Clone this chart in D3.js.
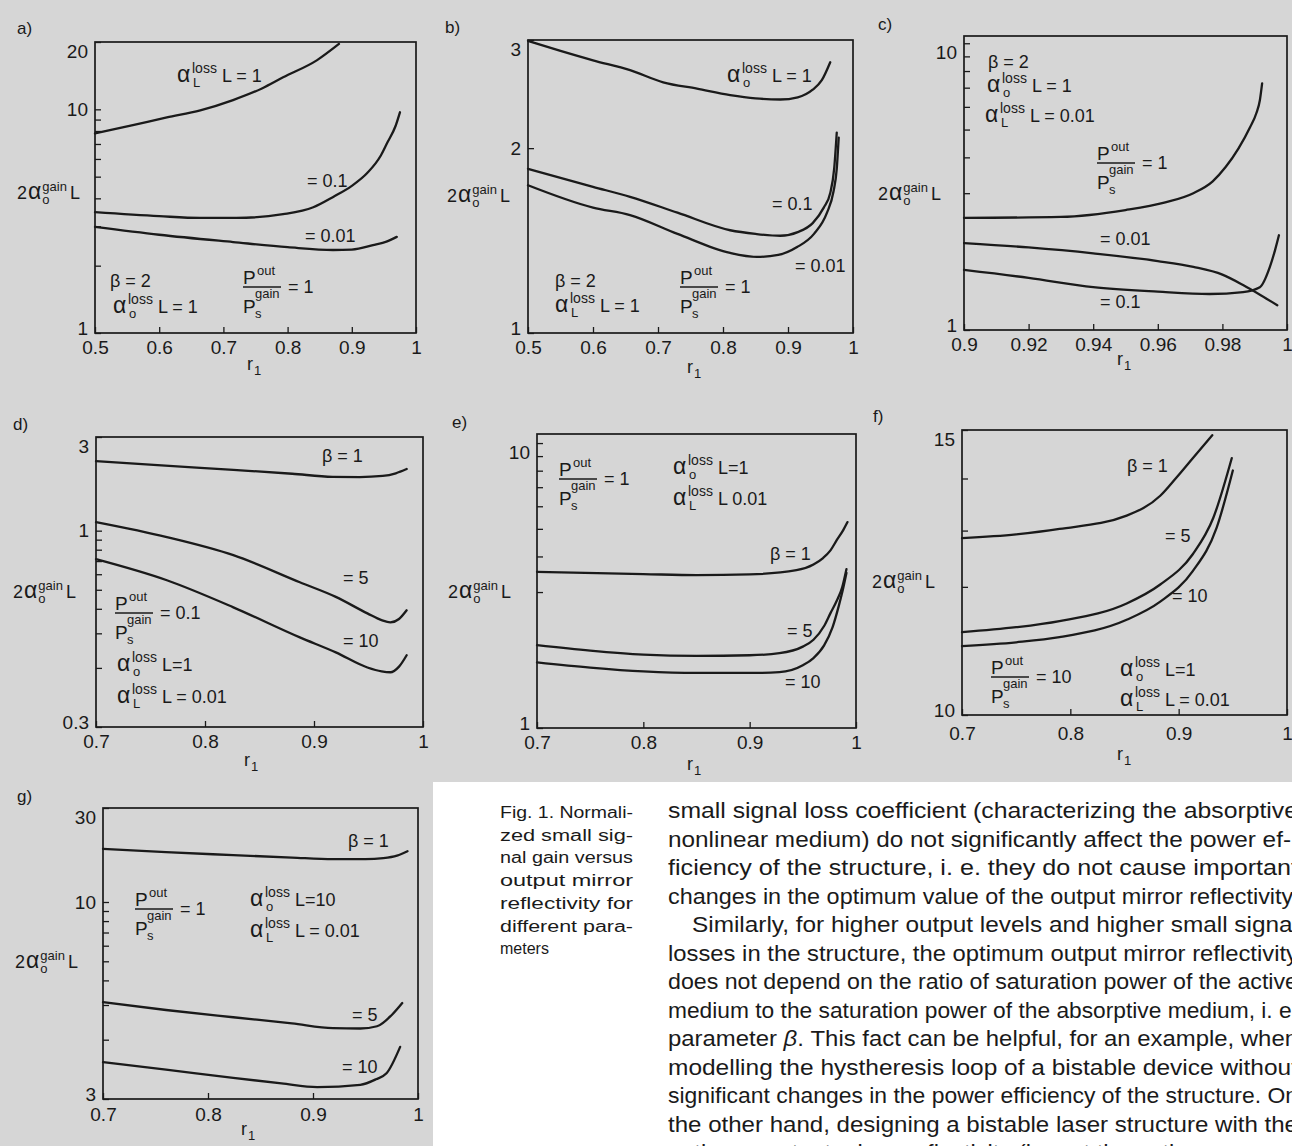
<!DOCTYPE html>
<html>
<head>
<meta charset="utf-8">
<script src="https://cdn.jsdelivr.net/npm/d3@7"></script>
<style>
  body { margin: 0; background: #fff; }
  svg text { font-family: "Liberation Sans", Arial, sans-serif; fill: #1a1a1a; }
</style>
</head>
<body>
<svg id="page"></svg>
<script>
// ---- data ----
// a) beta = 2, alpha_o L = 1, Pout/Ps = 1
const aR1 = [0.5, 0.559, 0.612, 0.664, 0.715, 0.76, 0.793, 0.846, 0.88];
const aV1 = [7.8, 8.5, 9.2, 9.9, 11.0, 12.4, 13.9, 16.6, 19.6];
const aR2 = [0.5, 0.6, 0.664, 0.72, 0.793, 0.84, 0.871, 0.9, 0.924, 0.945, 0.955, 0.968, 0.975];
const aV2 = [3.47, 3.33, 3.27, 3.27, 3.4, 3.65, 4.06, 4.55, 5.19, 6.2, 7.07, 8.4, 9.7];
const aR3 = [0.5, 0.6, 0.715, 0.8, 0.871, 0.9, 0.933, 0.955, 0.97];
const aV3 = [2.98, 2.75, 2.55, 2.42, 2.35, 2.36, 2.47, 2.57, 2.69];

// b)
const bR1 = [0.5, 0.55, 0.6, 0.657, 0.708, 0.76, 0.811, 0.85, 0.888, 0.915, 0.938, 0.952, 0.965];
const bV1 = [2.99, 2.88, 2.78, 2.68, 2.56, 2.5, 2.44, 2.41, 2.4, 2.42, 2.49, 2.58, 2.76];
const bR2 = [0.5, 0.6, 0.657, 0.73, 0.811, 0.85, 0.888, 0.915, 0.938, 0.955, 0.965, 0.971, 0.975];
const bV2 = [1.85, 1.73, 1.666, 1.57, 1.47, 1.45, 1.44, 1.46, 1.51, 1.6, 1.69, 1.85, 2.12];
const bR3 = [0.5, 0.6, 0.657, 0.73, 0.811, 0.852, 0.885, 0.914, 0.94, 0.96, 0.97, 0.975, 0.978];
const bV3 = [1.74, 1.6, 1.556, 1.45, 1.35, 1.33, 1.34, 1.38, 1.45, 1.57, 1.7, 1.85, 2.08];

// c)
const cR1 = [0.9, 0.93, 0.95, 0.962, 0.971, 0.977, 0.981, 0.985, 0.9886, 0.9905, 0.9916, 0.9923];
const cV1 = [2.46, 2.48, 2.62, 2.78, 3.0, 3.3, 3.7, 4.3, 5.1, 5.7, 6.33, 7.25];
const cR2 = [0.9, 0.92, 0.94, 0.96, 0.971, 0.98, 0.9864, 0.992, 0.997];
const cV2 = [2.01, 1.94, 1.85, 1.74, 1.66, 1.56, 1.435, 1.32, 1.22];
const cR3 = [0.9, 0.92, 0.94, 0.96, 0.976, 0.9864, 0.9916, 0.9947, 0.9963, 0.9975];
const cV3 = [1.62, 1.52, 1.41, 1.36, 1.335, 1.356, 1.41, 1.66, 1.9, 2.14];

// d)
const dR1 = [0.7, 0.76, 0.826, 0.88, 0.917, 0.942, 0.963, 0.975, 0.985];
const dV1 = [2.26, 2.15, 2.04, 1.95, 1.88, 1.875, 1.9, 1.96, 2.06];
const dR2 = [0.7, 0.765, 0.826, 0.887, 0.92, 0.949, 0.962, 0.97, 0.978, 0.985];
const dV2 = [1.105, 0.927, 0.75, 0.546, 0.46, 0.379, 0.35, 0.341, 0.355, 0.393];
const dR3 = [0.7, 0.765, 0.826, 0.887, 0.92, 0.949, 0.962, 0.97, 0.978, 0.985];
const dV3 = [0.716, 0.559, 0.407, 0.286, 0.24, 0.201, 0.192, 0.19, 0.203, 0.232];

// e)
const eR1 = [0.7, 0.8, 0.85, 0.9, 0.944, 0.96, 0.969, 0.976, 0.982, 0.988, 0.992];
const eV1 = [3.53, 3.47, 3.44, 3.46, 3.58, 3.75, 3.95, 4.2, 4.57, 4.95, 5.28];
const eR2 = [0.7, 0.75, 0.8, 0.85, 0.9, 0.928, 0.95, 0.96, 0.97, 0.976, 0.982, 0.987, 0.991];
const eV2 = [1.955, 1.87, 1.81, 1.79, 1.8, 1.83, 1.93, 2.04, 2.28, 2.53, 2.8, 3.12, 3.61];
const eR3 = [0.7, 0.75, 0.8, 0.85, 0.9, 0.928, 0.95, 0.96, 0.97, 0.978, 0.984, 0.988, 0.991];
const eV3 = [1.7, 1.63, 1.58, 1.56, 1.56, 1.57, 1.66, 1.76, 1.95, 2.26, 2.7, 3.1, 3.5];

// f)
const fR1 = [0.7, 0.75, 0.79, 0.852, 0.883, 0.898, 0.913, 0.931];
const fV1 = [12.86, 12.93, 13.03, 13.28, 13.66, 14.02, 14.41, 14.89];
const fR2 = [0.7, 0.75, 0.79, 0.852, 0.883, 0.913, 0.932, 0.949];
const fV2 = [11.25, 11.33, 11.43, 11.72, 12.04, 12.57, 13.24, 14.41];
const fR3 = [0.7, 0.75, 0.79, 0.852, 0.883, 0.913, 0.935, 0.95];
const fV3 = [11.03, 11.09, 11.17, 11.45, 11.75, 12.27, 13.05, 14.16];

// g)
const gR1 = [0.7, 0.76, 0.824, 0.88, 0.919, 0.95, 0.967, 0.98, 0.99];
const gV1 = [18.6, 17.9, 17.3, 16.8, 16.5, 16.5, 16.7, 17.2, 18.1];
const gR2 = [0.7, 0.76, 0.824, 0.88, 0.919, 0.945, 0.961, 0.975, 0.985];
const gV2 = [3.1, 2.83, 2.6, 2.42, 2.29, 2.28, 2.34, 2.67, 3.07];
const gR3 = [0.7, 0.76, 0.824, 0.87, 0.904, 0.945, 0.96, 0.97, 0.983];
const gV3 = [1.54, 1.41, 1.28, 1.2, 1.15, 1.18, 1.26, 1.35, 1.84];

// axis ticks
const xTicksAB = [0.5, 0.6, 0.7, 0.8, 0.9, 1];
const xTicksC = [0.9, 0.92, 0.94, 0.96, 0.98, 1];
const xTicksDG = [0.7, 0.8, 0.9, 1];
const yMinorDecade = [2, 3, 4, 5, 6, 7, 8, 9];

const captionLines = ["Fig. 1. Normali-", "zed small sig-", "nal gain versus", "output mirror",
  "reflectivity for", "different para-", "meters"];
const bodyLines = [
  "small signal loss coefficient (characterizing the absorptive",
  "nonlinear medium) do not significantly affect the power ef-",
  "ficiency of the structure, i. e. they do not cause important",
  "changes in the optimum value of the output mirror reflectivity.",
  "Similarly, for higher output levels and higher small signal",
  "losses in the structure, the optimum output mirror reflectivity",
  "does not depend on the ratio of saturation power of the active",
  "medium to the saturation power of the absorptive medium, i. e.",
  "parameter β. This fact can be helpful, for an example, when",
  "modelling the hystheresis loop of a bistable device without",
  "significant changes in the power efficiency of the structure. On",
  "the other hand, designing a bistable laser structure with the",
  "optimum output mirror reflectivity (i. e. at the optimum power"
];

// ---- drawing ----
const W = 1292, H = 1146;
const ink = "#1a1a1a";
const svg = d3.select("#page").attr("width", W).attr("height", H);

svg.append("rect").attr("width", W).attr("height", H).attr("fill", "#fff");
svg.append("path").attr("d", "M0,0H1292V782H433V1146H0Z").attr("fill", "#d6d6d6");

function txt(g, x, y, s, size, anchor) {
  return g.append("text").attr("x", x).attr("y", y)
    .attr("font-size", size).attr("text-anchor", anchor || "start").text(s);
}

function alphaLabel(g, x, y, sub, rest) {
  txt(g, x, y, "α", 23);
  const sup = txt(g, x + 15, y - 9, "loss", 14);
  txt(g, x + 16, y + 5, sub, 13);
  const w = sup.node().getComputedTextLength();
  txt(g, x + 15 + w + 5, y, rest, 18);
}

function fracLabel(g, x, y, rest) {
  txt(g, x, y - 3, "P", 19);
  txt(g, x + 14, y - 12, "out", 13);
  g.append("line").attr("x1", x).attr("x2", x + 38).attr("y1", y).attr("y2", y)
    .attr("stroke", ink).attr("stroke-width", 1.4);
  txt(g, x, y + 26, "P", 19);
  txt(g, x + 12, y + 31, "s", 13);
  txt(g, x + 12, y + 11, "gain", 13);
  txt(g, x + 45, y + 6, rest, 18);
}

function yTitle(g, x, y) {
  const two = txt(g, x, y, "2", 18);
  const w2 = two.node().getComputedTextLength();
  const al = txt(g, x + w2 + 1, y, "α", 23);
  const w = w2 + 1 + al.node().getComputedTextLength();
  const s = txt(g, x + w + 1, y - 8, "gain", 13);
  txt(g, x + w + 1, y + 5, "o", 13);
  txt(g, x + w + 2 + s.node().getComputedTextLength() + 2, y, "L", 18);
}

function rLabel(g, cx, cy) {
  txt(g, cx - 6, cy + 3, "r", 18);
  txt(g, cx + 1, cy + 8, "1", 13);
}

const panels = [
  { id: "a)", lab: [17, 34], l: 95, t: 42, r: 416, b: 333, xd: [0.5, 1], yd: [1, 20],
    xTicks: xTicksAB, yTicks: [20, 10, 1], yText: ["20", "10", "1"], yMinor: yMinorDecade, xPad: 8,
    curves: [[aR1, aV1], [aR2, aV2], [aR3, aV3]], title: [17, 199], rl: [253, 367],
    notes: [
      ["alpha", 177, 82, "L", "L = 1"], ["text", 307, 187, "= 0.1"], ["text", 305, 242, "= 0.01"],
      ["text", 110, 287, "β = 2"], ["alpha", 113, 313, "o", "L = 1"], ["frac", 243, 287, "= 1"]] },
  { id: "b)", lab: [445, 33], l: 528, t: 40, r: 853, b: 333, xd: [0.5, 1], yd: [1, 3],
    xTicks: xTicksAB, yTicks: [3, 2, 1], yText: ["3", "2", "1"], yMinor: [], xPad: 8,
    curves: [[bR1, bV1], [bR2, bV2], [bR3, bV3]], title: [447, 202], rl: [693, 370],
    notes: [
      ["alpha", 727, 82, "o", "L = 1"], ["text", 772, 210, "= 0.1"], ["text", 795, 272, "= 0.01"],
      ["text", 555, 287, "β = 2"], ["alpha", 555, 312, "L", "L = 1"], ["frac", 680, 287, "= 1"]] },
  { id: "c)", lab: [878, 30], l: 964, t: 36, r: 1287, b: 330, xd: [0.9, 1], yd: [1, 10.6],
    xTicks: xTicksC, yTicks: [10, 1], yText: ["10", "1"], yMinor: [3, 4, 5, 6, 7, 8, 9], xPad: 8,
    curves: [[cR1, cV1], [cR2, cV2], [cR3, cV3]], title: [878, 200], rl: [1123, 362],
    notes: [
      ["text", 988, 68, "β = 2"], ["alpha", 987, 92, "o", "L = 1"], ["alpha", 985, 122, "L", "L = 0.01"],
      ["frac", 1097, 163, "= 1"], ["text", 1100, 245, "= 0.01"], ["text", 1100, 308, "= 0.1"]] },
  { id: "d)", lab: [13, 430], l: 96, t: 437, r: 423, b: 727, xd: [0.7, 1], yd: [0.1, 3],
    xTicks: xTicksDG, yTicks: [3, 1, 0.1], yText: ["3", "1", "0.3"],
    yMinor: [0.2, 0.3, 0.4, 0.5, 0.6, 0.7, 0.8, 0.9], xPad: 8,
    curves: [[dR1, dV1], [dR2, dV2], [dR3, dV3]], title: [13, 598], rl: [250, 763],
    notes: [
      ["text", 322, 462, "β = 1"], ["text", 343, 584, "= 5"], ["text", 343, 647, "= 10"],
      ["frac", 115, 613, "= 0.1"], ["alpha", 117, 671, "o", "L=1"], ["alpha", 117, 703, "L", "L = 0.01"]] },
  { id: "e)", lab: [452, 428], l: 537, t: 434, r: 856, b: 728, xd: [0.7, 1], yd: [1, 10.76],
    xTicks: xTicksDG, yTicks: [10, 1], yText: ["10", "1"], yMinor: [3, 4, 5, 6, 7, 8, 9], xPad: 8,
    curves: [[eR1, eV1], [eR2, eV2], [eR3, eV3]], title: [448, 598], rl: [693, 767],
    notes: [
      ["frac", 559, 479, "= 1"], ["alpha", 673, 474, "o", "L=1"], ["alpha", 673, 505, "L", "L  0.01"],
      ["text", 770, 560, "β = 1"], ["text", 787, 637, "= 5"], ["text", 785, 688, "= 10"]] },
  { id: "f)", lab: [873, 422], l: 962, t: 430, r: 1287, b: 715, xd: [0.7, 1], yd: [10, 15],
    xTicks: xTicksDG, yTicks: [15, 10], yText: ["15", "10"], yMinor: [12, 13, 14], xPad: 12,
    curves: [[fR1, fV1], [fR2, fV2], [fR3, fV3]], title: [872, 588], rl: [1123, 757],
    notes: [
      ["text", 1127, 472, "β = 1"], ["text", 1165, 542, "= 5"], ["text", 1172, 602, "= 10"],
      ["frac", 991, 677, "= 10"], ["alpha", 1120, 676, "o", "L=1"], ["alpha", 1120, 706, "L", "L = 0.01"]] },
  { id: "g)", lab: [17, 802], l: 103, t: 808, r: 418, b: 1099, xd: [0.7, 1], yd: [1, 30],
    xTicks: xTicksDG, yTicks: [30, 10, 1], yText: ["30", "10", "3"], yMinor: yMinorDecade, xPad: 9,
    curves: [[gR1, gV1], [gR2, gV2], [gR3, gV3]], title: [15, 968], rl: [247, 1132],
    notes: [
      ["text", 348, 847, "β = 1"], ["text", 352, 1021, "= 5"], ["text", 342, 1073, "= 10"],
      ["frac", 135, 909, "= 1"], ["alpha", 250, 906, "o", "L=10"], ["alpha", 250, 937, "L", "L = 0.01"]] }
];

function drawPanel(p) {
  const x = d3.scaleLinear().domain(p.xd).range([p.l, p.r]);
  const y = d3.scaleLog().domain(p.yd).range([p.b, p.t]);
  const g = svg.append("g");
  const yTop = p.yTicks[0], yBot = p.yTicks[p.yTicks.length - 1];

  // minor y ticks (inward)
  if (p.yMinor.length) {
    g.append("g").attr("transform", `translate(${p.l},0)`)
      .call(d3.axisLeft(y).tickValues(p.yMinor).tickSizeInner(-6).tickSizeOuter(0).tickFormat(""))
      .call(a => a.select(".domain").remove());
  }
  // labelled y ticks
  const ya = g.append("g").attr("transform", `translate(${p.l},0)`)
    .call(d3.axisLeft(y).tickValues(p.yTicks).tickSizeInner(-6).tickSizeOuter(0).tickPadding(7)
      .tickFormat((d, i) => p.yText[i]))
    .call(a => a.select(".domain").remove());
  ya.attr("font-family", null).attr("font-size", null);
  ya.selectAll("text").attr("font-size", 19).attr("fill", ink)
    .attr("dy", d => d === yTop ? "0.8em" : d === yBot ? "0.1em" : "0.32em");

  // x axis
  const xa = g.append("g").attr("transform", `translate(0,${p.b})`)
    .call(d3.axisBottom(x).tickValues(p.xTicks).tickSizeInner(-6).tickSizeOuter(0).tickPadding(p.xPad)
      .tickFormat(d => String(d)))
    .call(a => a.select(".domain").remove());
  xa.attr("font-family", null).attr("font-size", null);
  xa.selectAll("text").attr("font-size", 19).attr("fill", ink);
  g.selectAll(".tick line").attr("stroke", ink).attr("stroke-width", 1.3);

  // frame
  g.append("rect").attr("x", p.l).attr("y", p.t).attr("width", p.r - p.l).attr("height", p.b - p.t)
    .attr("fill", "none").attr("stroke", ink).attr("stroke-width", 1.7);

  // curves
  const line = d3.line().x(d => x(d[0])).y(d => y(d[1])).curve(d3.curveMonotoneX);
  p.curves.forEach(c => {
    g.append("path").attr("d", line(d3.zip(c[0], c[1])))
      .attr("fill", "none").attr("stroke", ink).attr("stroke-width", 2.3)
      .attr("stroke-linecap", "round");
  });

  // labels
  txt(g, p.lab[0], p.lab[1], p.id, 17);
  yTitle(g, p.title[0], p.title[1]);
  rLabel(g, p.rl[0], p.rl[1]);
  p.notes.forEach(n => {
    if (n[0] === "text") txt(g, n[1], n[2], n[3], 18);
    else if (n[0] === "alpha") alphaLabel(g, n[1], n[2], n[3], n[4]);
    else if (n[0] === "frac") fracLabel(g, n[1], n[2], n[3]);
  });
}

panels.forEach(drawPanel);

// caption column
const cap = svg.append("g");
captionLines.forEach((s, i) => {
  const t = txt(cap, 500, 818 + i * 22.7, s, 16);
  if (i < captionLines.length - 1) t.attr("textLength", 133).attr("lengthAdjust", "spacingAndGlyphs");
});

// body text (justified, runs off the right edge like the scan)
const body = svg.append("g");
bodyLines.forEach((s, i) => {
  const x0 = i === 4 ? 692 : 668;
  const x1 = i === 1 ? 1291 : 1298;
  const t = body.append("text").attr("x", x0).attr("y", 818 + i * 28.5).attr("font-size", 22)
    .attr("textLength", x1 - x0).attr("lengthAdjust", "spacingAndGlyphs");
  if (s.includes("β")) {
    const parts = s.split("β");
    t.append("tspan").text(parts[0]);
    t.append("tspan").attr("font-style", "italic").text("β");
    t.append("tspan").text(parts[1]);
  } else {
    t.text(s);
  }
});
</script>
</body>
</html>
